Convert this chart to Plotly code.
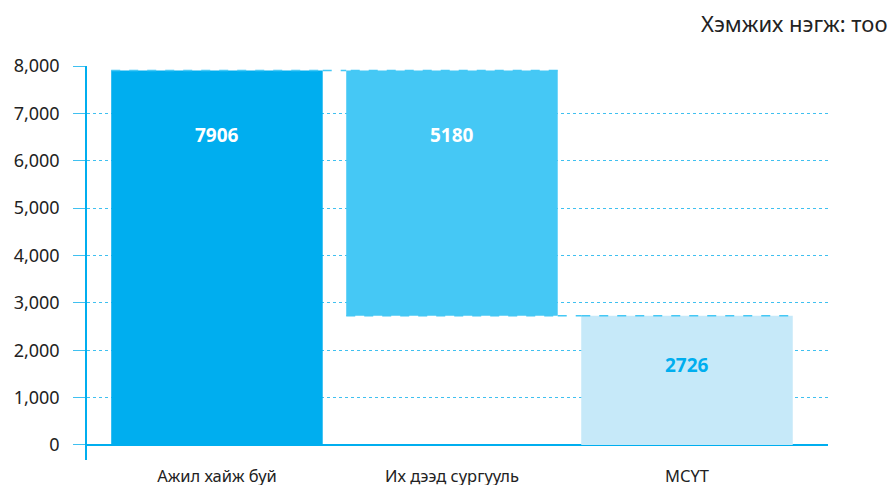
import plotly.graph_objects as go

categories = ["Ажил хайж буй", "Их дээд сургууль", "МСҮТ"]
values = [7906, -5180, 2726]
measures = ["relative", "relative", "total"]
labels = ["7906", "5180", "2726"]
y_ticks = [0, 1000, 2000, 3000, 4000, 5000, 6000, 7000, 8000]

c_start = "#00AEEF"
c_drop = "#45C8F5"
c_total = "#C6E9F9"
grid_c = "#3FC0F0"

fig = go.Figure()
fig.add_trace(go.Waterfall(
    x=categories, y=values, measure=measures,
    width=0.9,
    increasing=dict(marker=dict(color=c_start)),
    decreasing=dict(marker=dict(color=c_drop)),
    totals=dict(marker=dict(color=c_total)),
    connector=dict(mode="spanning", line=dict(color=c_drop, width=1.5, dash="dash")),
    hoverinfo="x+y",
))

# value labels placed a bit below the top of each bar
tops = [values[0], values[0], values[2]]
shifts = [-65, -65, -49]
label_colors = ["white", "white", c_start]
for cat, top, s, txt, col in zip(categories, tops, shifts, labels, label_colors):
    fig.add_annotation(x=cat, y=top, yshift=s, text="<b>%s</b>" % txt, showarrow=False,
                       font=dict(size=19, color=col, family="Noto Sans"))

fig.add_annotation(xref="paper", yref="paper", x=1.083, y=1.0, yshift=43,
                   xanchor="right", yanchor="middle", showarrow=False,
                   text="Хэмжих нэгж: тоо", font=dict(size=22, color="#222"))

fig.update_layout(
    width=892, height=485,
    margin=dict(l=87, r=64, t=66, b=25),
    plot_bgcolor="white", paper_bgcolor="white",
    font=dict(family="Noto Sans", color="#222"),
    showlegend=False,
    xaxis=dict(range=[-0.553, 2.6], showgrid=False, showline=False,
               ticks="", ticklabelstandoff=4,
               tickfont=dict(size=16.5, color="#222"), automargin=False),
    yaxis=dict(range=[-317, 8000], tickvals=y_ticks, tickformat=",d",
               showgrid=True, gridcolor=grid_c, griddash="dot", gridwidth=1,
               showline=True, linecolor=c_start, linewidth=1.5,
               ticks="outside", ticklen=12, tickcolor=grid_c,
               zeroline=True, zerolinecolor=c_start, zerolinewidth=2,
               ticklabelstandoff=10,
               tickfont=dict(size=18, color="#222"), automargin=False),
)

fig.write_html("out.html", config={"displayModeBar": False},
               post_script="document.body.style.margin='0';")
